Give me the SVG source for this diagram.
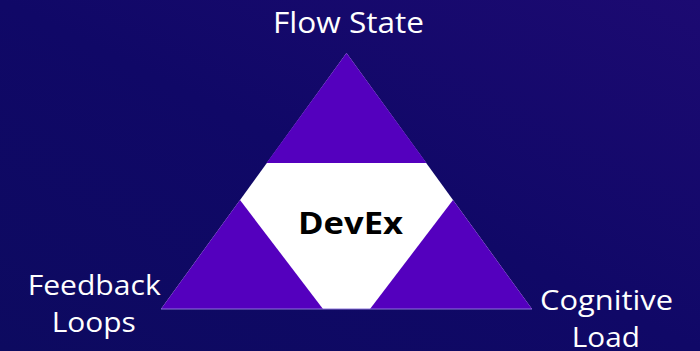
<svg xmlns="http://www.w3.org/2000/svg" width="700" height="351" viewBox="0 0 700 351">
<defs>
<linearGradient id="bg" x1="1" y1="0" x2="0" y2="1">
<stop offset="0" stop-color="#1c0a72"/>
<stop offset="0.5" stop-color="#100867"/>
<stop offset="1" stop-color="#0d0a60"/>
</linearGradient>
<style>
.lbl{font-family:"Open Sans","Liberation Sans",sans-serif;font-size:30px;fill:#ffffff;text-anchor:middle}
.lbl2{font-family:"Open Sans","Liberation Sans",sans-serif;font-size:28px;fill:#ffffff;text-anchor:middle}
.core{font-family:"Open Sans","Liberation Sans",sans-serif;font-size:30px;font-weight:bold;fill:#000000;text-anchor:middle}
.seg{fill:#5400be}
</style>
</defs>
<rect x="0" y="0" width="700" height="351" fill="url(#bg)"/>
<g id="devex">
<polygon points="346.5,53 161,309 532,309" fill="#ffffff"/>
<text class="core" x="350.5" y="234.3" textLength="105" lengthAdjust="spacingAndGlyphs">DevEx</text>
</g>
<g id="flow-state">
<polygon class="seg" points="346.5,53 266.5,163 426.5,163"/>
<text class="lbl" x="348.5" y="33.3" textLength="151" lengthAdjust="spacingAndGlyphs">Flow State</text>
</g>
<g id="feedback-loops">
<polygon class="seg" points="161,309 240,200 323,309"/>
<text class="lbl2" x="94.2" y="295" textLength="133" lengthAdjust="spacingAndGlyphs">Feedback</text>
<text class="lbl2" x="93.7" y="331.7" textLength="84" lengthAdjust="spacingAndGlyphs">Loops</text>
</g>
<g id="cognitive-load">
<polygon class="seg" points="532,309 453,200 370,309"/>
<text class="lbl2" x="606.5" y="310" textLength="133" lengthAdjust="spacingAndGlyphs">Cognitive</text>
<text class="lbl2" x="605.8" y="346.5" textLength="68" lengthAdjust="spacingAndGlyphs">Load</text>
</g>
<line x1="161" y1="309" x2="532" y2="309" stroke="#8e74dc" stroke-width="1"/>
<g id="connectors"/>
</svg>
